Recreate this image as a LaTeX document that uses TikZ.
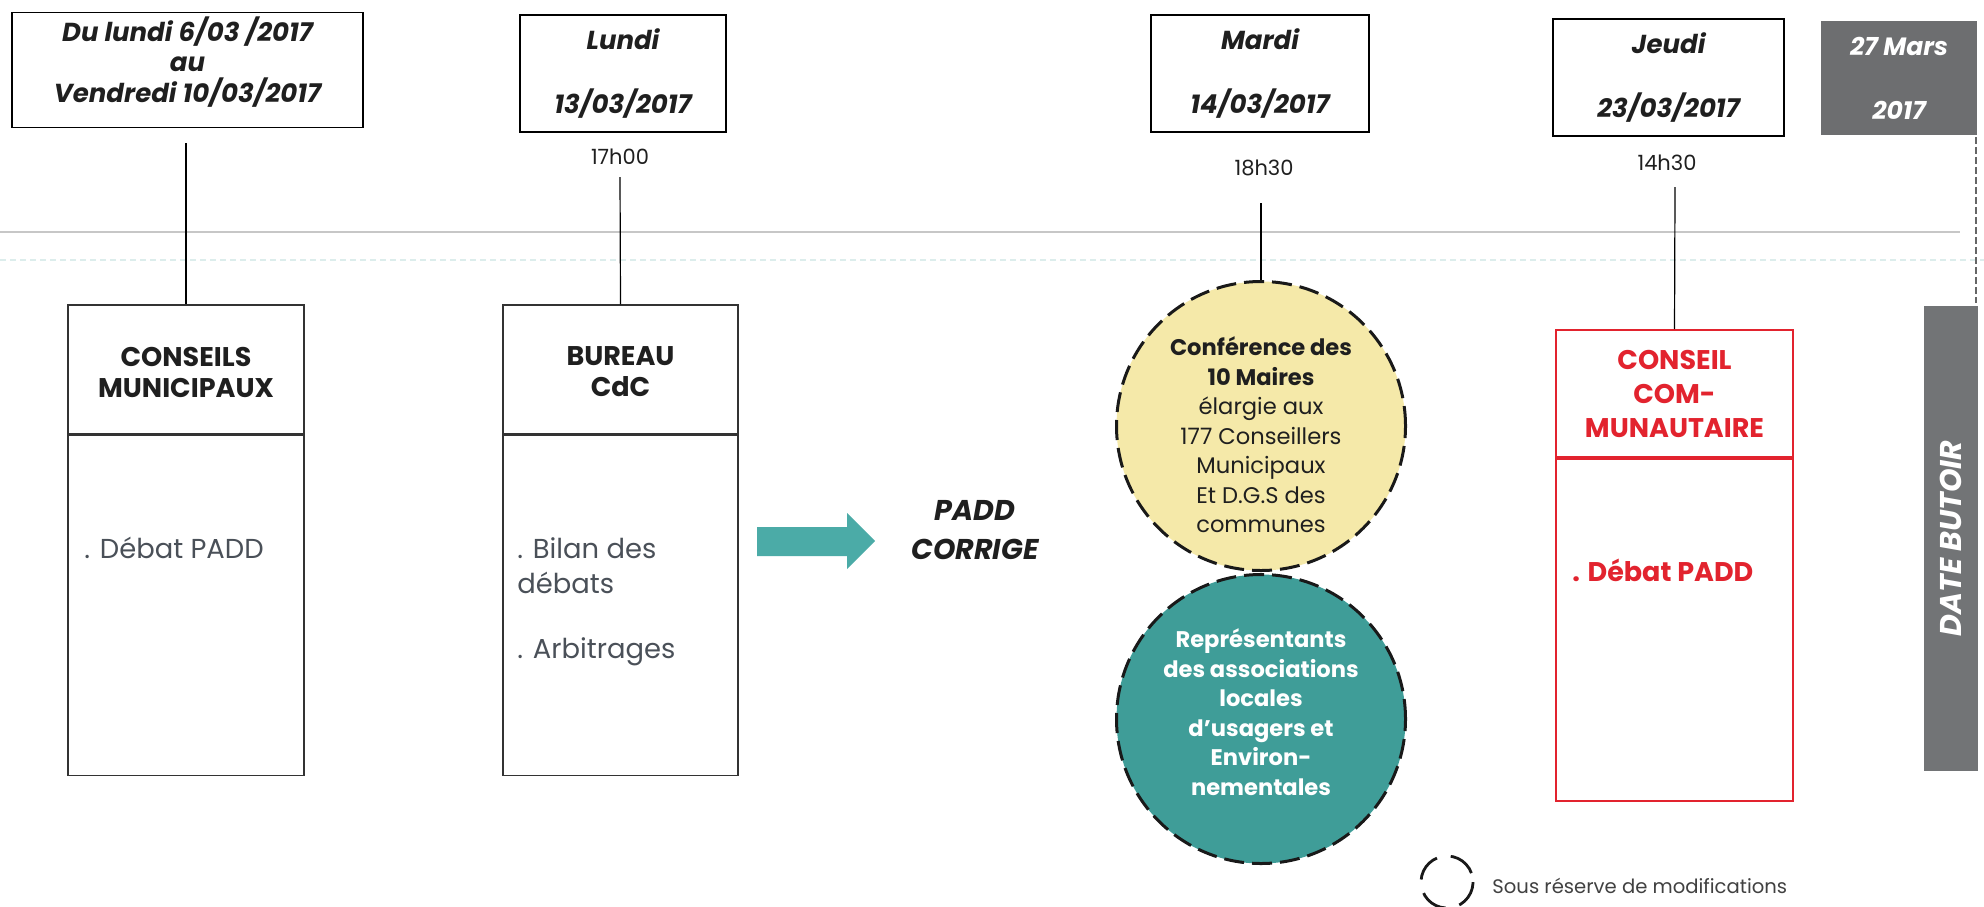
\documentclass[tikz,border=0pt]{standalone}
\usepackage{fontspec}
\setmainfont{Poppins}
\definecolor{txt}{HTML}{1F1F1F}
\definecolor{bodygray}{HTML}{4A5058}
\definecolor{padred}{HTML}{E2232E}
\definecolor{paleyellow}{HTML}{F5E9A9}
\definecolor{circteal}{HTML}{3F9D98}
\definecolor{arrowteal}{HTML}{4BABA7}
\definecolor{boxgray}{HTML}{6D6E70}
\definecolor{bargray}{HTML}{727476}
\begin{document}
\begin{tikzpicture}[x=0.5pt,y=-0.5pt,
  datebox/.style={draw=black, line width=0.9pt, align=center, inner sep=0pt,
    text=txt, font=\fontsize{13}{13.6}\selectfont\bfseries\itshape},
  datetxt/.style={align=center, inner sep=0pt, text=txt,
    font=\fontsize{13}{15.2}\selectfont\bfseries\itshape},
  graybox/.style={fill=boxgray, align=center, inner sep=0pt, text=white,
    font=\fontsize{12.5}{13.6}\selectfont\bfseries\itshape},
  timelbl/.style={inner sep=0pt, text=txt, font=\fontsize{10.5}{12}\selectfont},
  headbox/.style={draw=black!80, line width=0.7pt, inner sep=0pt},
  headtxt/.style={align=center, inner sep=0pt, text=txt,
    font=\fontsize{13.5}{15.5}\selectfont\bfseries},
  bodybox/.style={draw=black!80, line width=0.7pt, inner sep=0pt},
  redhead/.style={draw=padred, line width=0.9pt, align=center, inner sep=0pt,
    text=padred, font=\fontsize{13.5}{17}\selectfont\bfseries},
  redbody/.style={draw=padred, line width=0.9pt, inner sep=0pt},
  bodytxt/.style={anchor=west, align=left, inner sep=0pt, text=bodygray,
    font=\fontsize{13.7}{17.5}\selectfont},
  link/.style={draw=black, line width=0.6pt},
  dashcirc/.style={circle, draw=black!90, line width=1.5pt, dash pattern=on 10pt off 4pt,
    inner sep=0pt, minimum size=144.5pt},
  circtxt/.style={align=center, inner sep=0pt, font=\fontsize{11.3}{14.75}\selectfont}
]
\useasboundingbox (0,0) rectangle (1984,906);

% faint scan lines
\draw[black!22, line width=0.6pt] (0,232) -- (1960,232);
\draw[circteal!18, line width=0.8pt, dash pattern=on 3pt off 2pt] (0,260) -- (1984,260);

% top date boxes
\node[draw=black, line width=0.9pt, minimum width=175.5pt, minimum height=57.5pt, inner sep=0pt] (d1) at (187.5,70) {};
\node[datetxt] (d1t) at (187.5,62) {Du lundi 6/03 /2017\\au\\Vendredi 10/03/2017};
\node[datebox, minimum width=103pt, minimum height=58.5pt] (d2) at (623,73.5)
  {Lundi\\[18.4pt]13/03/2017};
\node[datebox, minimum width=109pt, minimum height=58.5pt] (d3) at (1260,73.5)
  {Mardi\\[18.4pt]14/03/2017};
\node[datebox, minimum width=115.5pt, minimum height=58.5pt] (d4) at (1668.5,77.5)
  {Jeudi\\[18.4pt]23/03/2017};
\node[graybox, minimum width=78pt, minimum height=57pt] (d5) at (1899,78)
  {27 Mars\\[18.4pt]2017};

% times
\node[timelbl] (t2) at (620,157) {17h00};
\node[timelbl] (t3) at (1264,168) {18h30};
\node[timelbl] (t4) at (1667,163) {14h30};

% lower boxes
\node[headbox, minimum width=118pt, minimum height=64.5pt] (cmH) at (186,369.5) {};
\node[headtxt] (cmHt) at (186,372) {CONSEILS\\MUNICIPAUX};
\node[bodybox, minimum width=118pt, minimum height=170pt, anchor=north] (cmB) at (cmH.south) {};
\node[bodytxt] (cmT) at (84,548) {. Débat PADD};

\node[headbox, minimum width=117.5pt, minimum height=64.5pt] (buH) at (620.5,369.5) {};
\node[headtxt] (buHt) at (620.5,372) {BUREAU\\CdC};
\node[bodybox, minimum width=117.5pt, minimum height=170pt, anchor=north] (buB) at (buH.south) {};
\node[bodytxt] (buT1) at (517,566) {. Bilan des\\débats};
\node[bodytxt] (buT2) at (517,652) {. Arbitrages};

\node[redhead, minimum width=118.5pt, minimum height=63.5pt] (rdH) at (1674.5,393.5)
  {CONSEIL\\COM-\\MUNAUTAIRE};
\node[redbody, minimum width=118.5pt, minimum height=171pt, anchor=north] (rdB) at (rdH.south) {};
\node[bodytxt, text=padred, font=\fontsize{13.5}{17}\selectfont\bfseries] (rdT) at (1572,570) {. Débat PADD};

% circles
\node[dashcirc, fill=paleyellow] (yc) at (1261,426) {};
\node[circtxt, text=txt] (ycT) at (1261,435)
  {\textbf{Conférence des}\\\textbf{10 Maires}\\élargie aux\\177 Conseillers\\Municipaux\\Et D.G.S des\\communes};
\node[dashcirc, fill=circteal] (tc) at (1261,719) {};
\node[circtxt, text=white, font=\fontsize{11.3}{14.75}\selectfont\bfseries] (tcT) at (1261,712)
  {Représentants\\des associations\\locales\\d'usagers et\\Environ-\\nementales};

% arrow and PADD CORRIGE
\fill[arrowteal] (757,527) -- (847,527) -- (847,513) -- (875,541) -- (847,569) -- (847,556) -- (757,556) -- cycle;
\node[inner sep=0pt, align=center, text=txt, font=\fontsize{14.3}{19.5}\selectfont\bfseries\itshape] (padd) at (975,530)
  {PADD\\CORRIGE};

% date butoir
\node[fill=bargray, rotate=90, minimum width=232.5pt, minimum height=27pt, inner sep=0pt,
  text=white, font=\fontsize{15}{17}\selectfont\bfseries\itshape] (bar) at (1951,538.5) {DATE BUTOIR};
\coordinate (dtop) at (1976,137);
\coordinate (dbot) at (1976,303);
\draw[black!60, line width=0.8pt, dash pattern=on 3.5pt off 1.5pt] (dtop) -- (dbot);

% connectors
\coordinate (l1) at (186,143);
\coordinate (l2) at (620,177);
\coordinate (l3) at (1261,203);
\coordinate (l4) at (1675,187);
\draw[link] (l1) -- (cmH.north);
\draw[link] (l2) -- (buH.north);
\draw[link] (l3) -- (yc.north);
\draw[link] (l4) -- (rdH.north);

% legend
\node[circle, draw=black!90, line width=1.4pt, dash pattern=on 14pt off 7pt, minimum size=26pt, inner sep=0pt, rotate=20] (lg) at (1447,882) {};
\node[anchor=west, inner sep=0pt, text=txt!85, font=\fontsize{9.8}{11}\selectfont] (lgt) at (1492,886) {Sous réserve de modifications};
\end{tikzpicture}
\end{document}
